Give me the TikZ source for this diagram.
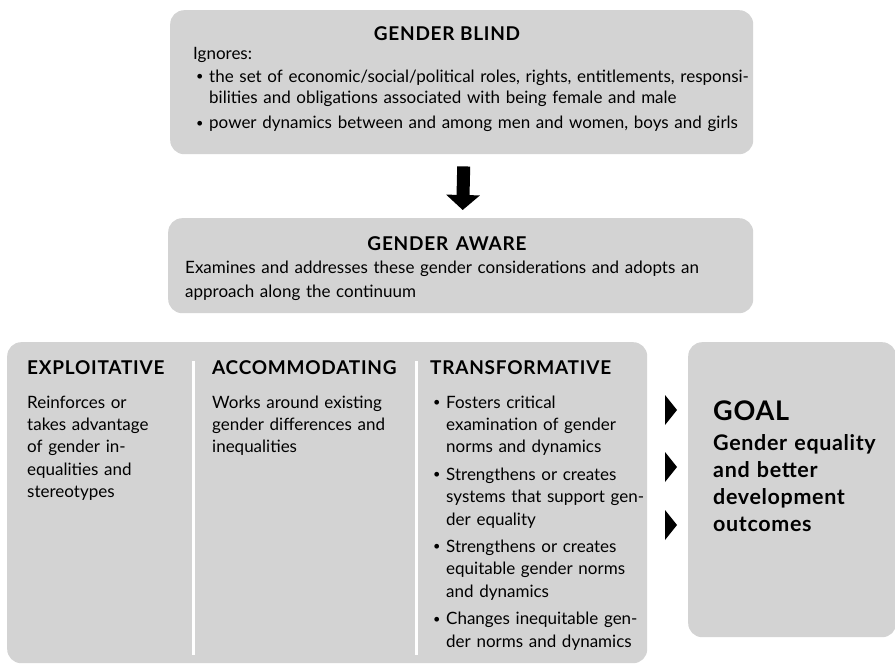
\documentclass[tikz,border=0pt]{standalone}
\usepackage{fontspec}
\setmainfont{Lato}
\newfontfamily\hfont{Lato}[LetterSpace=4.0]
\newfontfamily\gfont{Lato}[LetterSpace=3.0]
\usetikzlibrary{arrows.meta}
\definecolor{boxgray}{RGB}{211,211,211}
\newcommand\bul{\makebox[13pt][l]{\raisebox{1.5pt}{\scalebox{0.75}{•}}}}
\newcommand\ind{\hspace*{13pt}}
\begin{document}
\begin{tikzpicture}[x=1pt,y=-1pt,
  panel/.style={fill=boxgray, rounded corners=14pt, inner sep=0pt, anchor=north west},
  txt/.style={inner sep=0pt, anchor=base west, align=left, text width=700pt},
  head/.style={inner sep=0pt, anchor=base, font=\hfont\fontsize{19}{22}\selectfont\bfseries},
  colhead/.style={inner sep=0pt, anchor=base west, font=\hfont\fontsize{19}{22}\selectfont\bfseries},
  sep/.style={white, line width=3pt},
  bigarrow/.style={line width=13pt, -{Triangle[width=33pt,length=15pt]}},
  tri/.style={fill=black}
]
\useasboundingbox (0,0) rectangle (895,664);

% boxes
\node[panel, minimum width=583pt, minimum height=144pt] (blind) at (170,10) {};
\node[panel, minimum width=585pt, minimum height=95pt] (aware) at (168,218) {};
\node[panel, minimum width=640pt, minimum height=321pt] (cont) at (7,342) {};
\node[panel, minimum width=208pt, minimum height=295pt] (goal) at (688,342) {};

% arrow
\draw[bigarrow] ([xshift=2pt,yshift=-12pt]blind.south) -- ([xshift=2pt,yshift=8pt]aware.north);

% gender blind
\node[head] (blindhead) at (447,40) {GENDER BLIND};
\node[txt, font=\fontsize{17}{21.5}\selectfont] (ign) at (193,59) {Ignores:};
\node[txt, font=\fontsize{17}{21.5}\selectfont] (ignlist) at (196,82)
 {\bul the set of economic/social/political roles, rights, entitlements, responsi-\\
  \ind bilities and obligations associated with being female and male\\[3.5pt]
  \bul power dynamics between and among men and women, boys and girls};

% gender aware
\node[head] (awarehead) at (447,250) {GENDER\hspace{0.4em}AWARE};
\node[txt, font=\fontsize{17}{24}\selectfont] (awaretxt) at (185,273)
 {Examines and addresses these gender considerations and adopts an\\
  approach along the continuum};

% continuum
\draw[sep] (193,361) -- (193,655);
\draw[sep] (416,361) -- (416,655);

\node[colhead] (exph) at (27,374) {EXPLOITATIVE};
\node[colhead] (acch) at (212,374) {ACCOMMODATING};
\node[colhead] (trah) at (430,374) {TRANSFORMATIVE};

\node[txt, font=\fontsize{17}{22.4}\selectfont] (expt) at (27,408)
 {Reinforces or\\ takes advantage\\ of gender in-\\ equalities and\\ stereotypes};
\node[txt, font=\fontsize{17}{22.4}\selectfont] (acct) at (212,408)
 {Works around existing\\ gender differences and\\ inequalities};
\node[txt, font=\fontsize{17}{22.4}\selectfont] (trat) at (433,408)
 {\bul Fosters critical\\
  \ind examination of gender\\
  \ind norms and dynamics\\[5pt]
  \bul Strengthens or creates\\
  \ind systems that support gen-\\
  \ind der equality\\[5pt]
  \bul Strengthens or creates\\
  \ind equitable gender norms\\
  \ind and dynamics\\[5pt]
  \bul Changes inequitable gen-\\
  \ind der norms and dynamics};

% triangles
\fill[tri] (665,395) -- (677,410) -- (665,425) -- cycle;
\fill[tri] (665,452) -- (677,467) -- (665,482) -- cycle;
\fill[tri] (665,510) -- (677,525) -- (665,540) -- cycle;

% goal
\node[txt, font=\gfont\fontsize{27}{30}\selectfont\bfseries] (goalh) at (713,420) {GOAL};
\node[txt, font=\gfont\fontsize{21.5}{27.3}\selectfont\bfseries] (goalt) at (713,450)
 {Gender equality\\ and better\\ development\\ outcomes};
\end{tikzpicture}
\end{document}
